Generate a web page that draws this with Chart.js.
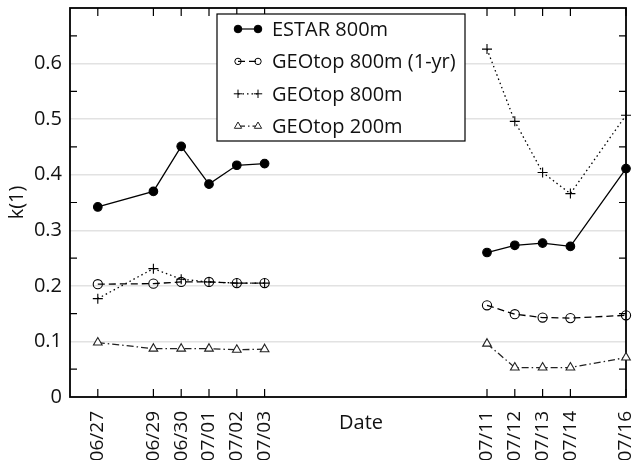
<!DOCTYPE html>
<html><head><meta charset="utf-8">
<script src="https://cdn.jsdelivr.net/npm/chart.js@4/dist/chart.umd.min.js"></script>
<style>html,body{margin:0;padding:0;background:#fff;}</style>
</head><body>
<canvas id="c" width="634" height="460"></canvas>
<script>
// ---- data ----
const dateLabels = ['06/27','06/29','06/30','07/01','07/02','07/03','07/11','07/12','07/13','07/14','07/16'];
const dayOffsets = [0, 2, 3, 4, 5, 6, 14, 15, 16, 17, 19]; // days since 06/27
const estar800      = [0.342, 0.370, 0.451, 0.383, 0.417, 0.420, 0.260, 0.273, 0.277, 0.271, 0.411];
const geotop800_1yr = [0.203, 0.204, 0.207, 0.207, 0.205, 0.205, 0.165, 0.149, 0.143, 0.142, 0.147];
const geotop800     = [0.177, 0.231, 0.212, 0.207, 0.205, 0.205, 0.626, 0.496, 0.404, 0.366, 0.507];
const geotop200     = [0.098, 0.087, 0.087, 0.087, 0.085, 0.086, 0.096, 0.053, 0.053, 0.053, 0.071];
const seriesNames = ['ESTAR 800m', 'GEOtop 800m (1-yr)', 'GEOtop 800m', 'GEOtop 200m'];
const yTickValues = [0, 0.1, 0.2, 0.3, 0.4, 0.5, 0.6];
const yTickLabels = ['0', '0.1', '0.2', '0.3', '0.4', '0.5', '0.6'];
const yMinorTicks = [0.05, 0.15, 0.25, 0.35, 0.45, 0.55, 0.65];
const xTitle = 'Date';
const yTitle = 'k(1)';

const FONT = "'Open Sans', 'Noto Sans', sans-serif";
Chart.defaults.font.family = FONT;
Chart.defaults.font.size = 20;
Chart.defaults.color = '#111';

function pts(vals) {
  const out = [];
  vals.forEach((v, i) => {
    if (i === 6) out.push({ x: (dayOffsets[5] + dayOffsets[6]) / 2, y: null }); // break in the record
    out.push({ x: dayOffsets[i], y: v });
  });
  return out;
}

const styles = [
  { borderDash: [], pointStyle: 'circle', pointRadius: 4.3, pointBackgroundColor: '#000', borderColor: '#000', legendRadius: 3.8 },
  { borderDash: [7, 4], pointStyle: 'circle', pointRadius: 4.6, pointBackgroundColor: 'rgba(255,255,255,0)', borderColor: '#000', legendRadius: 3.2 },
  { borderDash: [1.5, 3], pointStyle: 'cross', pointRadius: 5, pointBackgroundColor: '#000', borderColor: '#000', legendRadius: 4.2 },
  { borderDash: [7, 3, 1.5, 3], pointStyle: 'triangle', pointRadius: 5, pointBackgroundColor: '#fff', borderColor: '#222', legendRadius: 4.2 }
];
const allSeries = [estar800, geotop800_1yr, geotop800, geotop200];

const datasets = allSeries.map((vals, i) => ({
  label: seriesNames[i],
  data: pts(vals),
  borderColor: styles[i].borderColor,
  borderWidth: 1.3,
  borderDash: styles[i].borderDash,
  pointStyle: styles[i].pointStyle,
  pointRadius: styles[i].pointRadius,
  pointBackgroundColor: styles[i].pointBackgroundColor,
  pointBorderColor: styles[i].borderColor,
  pointBorderWidth: 1.1,
  spanGaps: false,
  clip: false,
  tension: 0
}));

const framePlugin = {
  id: 'frame',
  beforeDatasetsDraw(chart) {
    const { ctx, chartArea: a, scales } = chart;
    ctx.save();
    ctx.strokeStyle = '#000';
    ctx.lineWidth = 1.2;
    ctx.beginPath();
    yMinorTicks.forEach(v => {
      const y = scales.y.getPixelForValue(v);
      ctx.moveTo(a.left, y); ctx.lineTo(a.left + 7, y);
      ctx.moveTo(a.right, y); ctx.lineTo(a.right - 7, y);
    });
    dayOffsets.forEach(d => {
      const x = scales.x.getPixelForValue(d);
      ctx.moveTo(x, a.bottom); ctx.lineTo(x, a.bottom - 8);
      ctx.moveTo(x, a.top); ctx.lineTo(x, a.top + 8);
    });
    ctx.stroke();
    ctx.lineWidth = 1.8;
    ctx.strokeRect(a.left, a.top, a.right - a.left, a.bottom - a.top);
    ctx.restore();
  },
  afterDatasetsDraw(chart) {
    const { ctx, chartArea: a } = chart;
    ctx.save();
    // legend box
    const bx = a.left + 147, by = a.top + 6, bw = 248, bh = 127;
    ctx.fillStyle = '#fff';
    ctx.fillRect(bx, by, bw, bh);
    ctx.strokeStyle = '#000';
    ctx.lineWidth = 1.2;
    ctx.strokeRect(bx, by, bw, bh);
    ctx.font = '20px ' + FONT;
    ctx.textBaseline = 'middle';
    ctx.textAlign = 'left';
    datasets.forEach((ds, i) => {
      const y = by + 15 + i * 32.4;
      const x1 = bx + 21, x2 = bx + 41;
      ctx.strokeStyle = ds.borderColor;
      ctx.lineWidth = 1.2;
      ctx.setLineDash(ds.borderDash);
      ctx.beginPath(); ctx.moveTo(x1, y); ctx.lineTo(x2, y); ctx.stroke();
      ctx.setLineDash([]);
      [x1, x2].forEach(x => {
        ctx.fillStyle = ds.pointBackgroundColor;
        ctx.strokeStyle = ds.pointBorderColor;
        ctx.lineWidth = 1;
        Chart.helpers.drawPoint(ctx, { pointStyle: ds.pointStyle, radius: styles[i].legendRadius, borderWidth: 1, rotation: 0 }, x, y);
      });
      ctx.fillStyle = '#111';
      ctx.fillText(ds.label, bx + 55, y + 1);
    });
    // axis titles
    ctx.fillStyle = '#111';
    ctx.textAlign = 'center';
    ctx.fillText(xTitle, a.left + 291, a.bottom + 26);
    ctx.translate(17, (a.top + a.bottom) / 2);
    ctx.rotate(-Math.PI / 2);
    ctx.fillText(yTitle, 0, 0);
    ctx.restore();
  }
};

new Chart(document.getElementById('c'), {
  type: 'line',
  data: { datasets },
  plugins: [framePlugin],
  options: {
    responsive: false,
    animation: false,
    devicePixelRatio: 1,
    layout: { padding: { top: 8, right: 8, left: 0, bottom: 0 } },
    plugins: { legend: { display: false }, tooltip: { enabled: false } },
    scales: {
      x: {
        type: 'linear', min: -1, max: 19,
        afterBuildTicks: s => { s.ticks = dayOffsets.map(v => ({ value: v })); },
        afterFit: s => { s.height = 63; s.paddingLeft = 0; s.paddingRight = 0; },
        grid: { display: false },
        border: { display: false },
        ticks: {
          autoSkip: false, minRotation: 90, maxRotation: 90, padding: 6,
          font: { size: 19 },
          callback: (v, i) => dateLabels[i]
        }
      },
      y: {
        min: 0, max: 0.7,
        afterBuildTicks: s => { s.ticks = yTickValues.concat([0.7]).map(v => ({ value: v })); },
        afterFit: s => { s.width = 70; s.paddingTop = 0; s.paddingBottom = 0; },
        border: { display: false },
        grid: {
          drawTicks: false,
          lineWidth: 1.5,
          color: c => (c.tick && c.tick.value > 0.001 && c.tick.value < 0.69) ? '#e2e2e2' : 'rgba(0,0,0,0)'
        },
        ticks: {
          padding: 8,
          callback: (v, i) => (i < yTickLabels.length ? yTickLabels[i] : '')
        }
      }
    }
  }
});
</script>
</body></html>
